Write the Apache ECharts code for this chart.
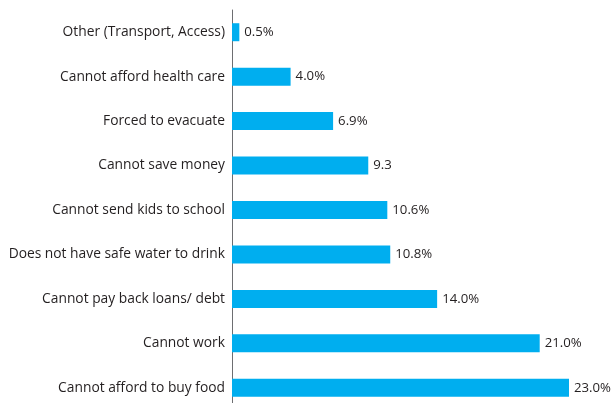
<!DOCTYPE html>
<html><head><meta charset="utf-8">
<script src="https://cdn.jsdelivr.net/npm/echarts@6/dist/echarts.min.js"></script>
<style>html,body{margin:0;padding:0;background:#fff;overflow:hidden;width:615px;height:403px}#c{width:615px;height:410px}</style>
</head><body><div id="c"></div>
<script>
const categories = ["Cannot afford to buy food","Cannot work","Cannot pay back loans/ debt","Does not have safe water to drink","Cannot send kids to school","Cannot save money","Forced to evacuate","Cannot afford health care","Other (Transport, Access)"];
const values = [23.0,21.0,14.0,10.8,10.6,9.3,6.9,4.0,0.5];
const valueLabels = ["23.0%","21.0%","14.0%","10.8%","10.6%","9.3","6.9%","4.0%","0.5%"];
const chart = echarts.init(document.getElementById('c'), null, {renderer:'canvas'});
chart.setOption({
  animation:false,
  grid:{left:232, right:46, top:10, bottom:0, containLabel:false},
  xAxis:{type:'value', min:0, max:23, show:false},
  yAxis:{type:'category', data:categories,
    axisLine:{show:true, lineStyle:{color:'#6d6e71', width:1}},
    axisTick:{show:false},
    axisLabel:{color:'#231f20', fontSize:13.8, fontFamily:'Open Sans', margin:7}},
  series:[{type:'bar', data:values, barWidth:18, itemStyle:{color:'#00aeef'},
    label:{show:true, position:'right', distance:5, color:'#231f20', fontSize:13.2, fontFamily:'Open Sans',
      formatter:p=>valueLabels[p.dataIndex]}}]
});
</script></body></html>
